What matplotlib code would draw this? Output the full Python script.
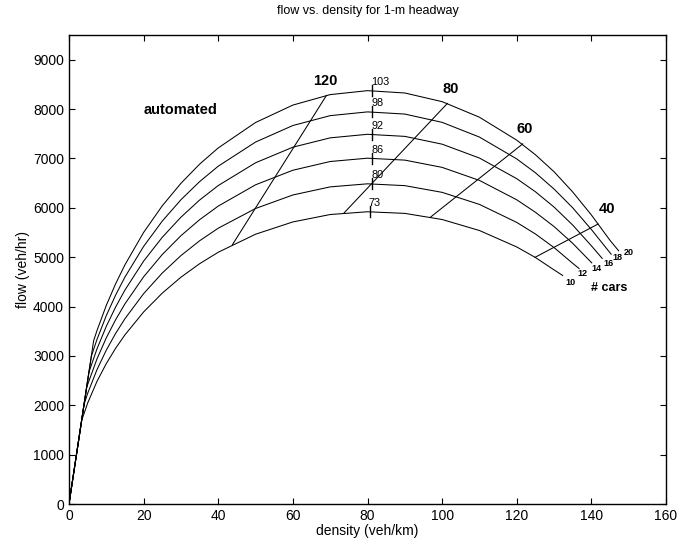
import matplotlib
matplotlib.use("Agg")
import matplotlib.pyplot as plt

plt.rcParams['font.family'] = ['Liberation Sans', 'DejaVu Sans']

# =================================== Data ===================================

cars = [10, 12, 14, 16, 18, 20]

density_10 = [0, 3.4, 5, 7.5, 10, 12.5, 15, 20, 25, 30, 35, 40, 50, 60, 70, 80, 90, 100, 110, 120, 125, 130, 132.3]
flow_10 = [0, 1694, 2044, 2484, 2845, 3155, 3427, 3890, 4272, 4594, 4867, 5100, 5465, 5714, 5864, 5920, 5887, 5763, 5540, 5207, 4993, 4742, 4630]

density_12 = [0, 4.05, 5, 7.5, 10, 12.5, 15, 20, 25, 30, 35, 40, 50, 60, 70, 80, 90, 100, 110, 120, 125, 130, 135, 136.7]
flow_12 = [0, 2022, 2240, 2721, 3117, 3456, 3754, 4261, 4679, 5032, 5332, 5587, 5986, 6260, 6424, 6486, 6449, 6313, 6069, 5704, 5470, 5194, 4875, 4770]

density_14 = [0, 4.7, 5, 7.5, 10, 12.5, 15, 20, 25, 30, 35, 40, 50, 60, 70, 80, 90, 100, 110, 120, 125, 130, 135, 140.1]
flow_14 = [0, 2348, 2419, 2939, 3366, 3733, 4055, 4602, 5054, 5435, 5759, 6035, 6466, 6761, 6938, 7005, 6966, 6819, 6555, 6162, 5910, 5620, 5280, 4885]

density_16 = [0, 5.35, 7.5, 10, 12.5, 15, 20, 25, 30, 35, 40, 50, 60, 70, 80, 90, 100, 110, 120, 125, 130, 135, 140, 142.9]
flow_16 = [0, 2672, 3142, 3599, 3990, 4335, 4920, 5403, 5810, 6157, 6451, 6912, 7228, 7417, 7489, 7447, 7289, 7008, 6590, 6325, 6015, 5650, 5230, 4975]

density_18 = [0, 6.0, 7.5, 10, 12.5, 15, 20, 25, 30, 35, 40, 50, 60, 70, 80, 90, 100, 110, 120, 125, 130, 135, 140, 145.3]
flow_18 = [0, 2995, 3333, 3817, 4232, 4598, 5218, 5731, 6163, 6530, 6843, 7332, 7667, 7867, 7943, 7899, 7731, 7433, 6990, 6710, 6380, 6000, 5560, 5060]

density_20 = [0, 6.6, 7.5, 10, 12.5, 15, 20, 25, 30, 35, 40, 50, 60, 70, 80, 90, 100, 110, 120, 125, 130, 135, 140, 145, 147.3]
flow_20 = [0, 3305, 3513, 4024, 4461, 4846, 5501, 6041, 6496, 6884, 7213, 7728, 8081, 8293, 8373, 8326, 8150, 7835, 7370, 7075, 6730, 6320, 5855, 5340, 5130]

# speed at maximum flow for each platoon size
peak_speed = [73, 80, 86, 92, 98, 103]
peak_density = [80.6, 81.3, 81.3, 81.3, 81.3, 81.3]
peak_flow = [5920, 6486, 7005, 7489, 7943, 8373]

# constant speed lines (km/h), from the 10-car curve to the 20-car curve
speeds = [120, 80, 60, 40]
speed_density_lo = [43.8, 73.7, 96.9, 124.9]
speed_flow_lo = [5253, 5895, 5812, 4997]
speed_density_hi = [69.0, 101.4, 121.6, 141.8]
speed_flow_hi = [8277, 8114, 7295, 5672]

curves = {
    10: (density_10, flow_10),
    12: (density_12, flow_12),
    14: (density_14, flow_14),
    16: (density_16, flow_16),
    18: (density_18, flow_18),
    20: (density_20, flow_20),
}

# =================================== Drawing ===================================

fig = plt.figure(figsize=(6.81, 5.43), dpi=100)
ax = fig.add_axes([0.1013, 0.0718, 0.8767, 0.8637])

# where the "# cars" numbers sit at the curve ends
num_label_pos = [(134.4, 4489), (137.6, 4675), (141.4, 4780), (144.5, 4878), (147.0, 4990), (150.0, 5085)]

for n, (lx, ly) in zip(cars, num_label_pos):
    d, f = curves[n]
    ax.plot(d, f, color='black', linewidth=0.75)
    ax.text(lx, ly, str(n), fontsize=6.5, fontweight='bold', ha='center', va='center')

for s, kl, ql, kh, qh in zip(speeds, speed_density_lo, speed_flow_lo, speed_density_hi, speed_flow_hi):
    ax.plot([kl, kh], [ql, qh], color='black', linewidth=0.75)

label_dk = [-0.2, 0.9, 0.6, 2.4]  # nudges for the speed labels
for s, kh, qh, dk in zip(speeds, speed_density_hi, speed_flow_hi, label_dk):
    ax.text(kh + dk, qh + 300, str(s), fontsize=10.5, fontweight='bold',
            ha='center', va='center')

for v, k, q in zip(peak_speed, peak_density, peak_flow):
    ax.plot([k, k], [q - 110, q + 110], color='black', linewidth=1.0)
    ax.text(k - 0.3, q + 175, str(v), fontsize=7.8, ha='left', va='center')

ax.text(20.1, 7990, 'automated', fontsize=10.5, fontweight='bold', ha='left', va='center')
ax.text(139.8, 4371, '# cars', fontsize=9, fontweight='bold', ha='left', va='center')

ax.set_xlim(0, 160)
ax.set_ylim(0, 9500)
ax.set_xticks(range(0, 161, 20))
ax.set_yticks(range(0, 9001, 1000))
ax.tick_params(direction='in', top=True, right=True, length=4, width=0.8, labelsize=10)
for sp in ax.spines.values():
    sp.set_linewidth(1.0)

ax.set_xlabel('density (veh/km)', fontsize=10, labelpad=1)
ax.set_ylabel('flow (veh/hr)', fontsize=10, labelpad=2)
ax.set_title('flow vs. density for 1-m headway', fontsize=9, pad=15)

fig.savefig('out.png', dpi=100)
